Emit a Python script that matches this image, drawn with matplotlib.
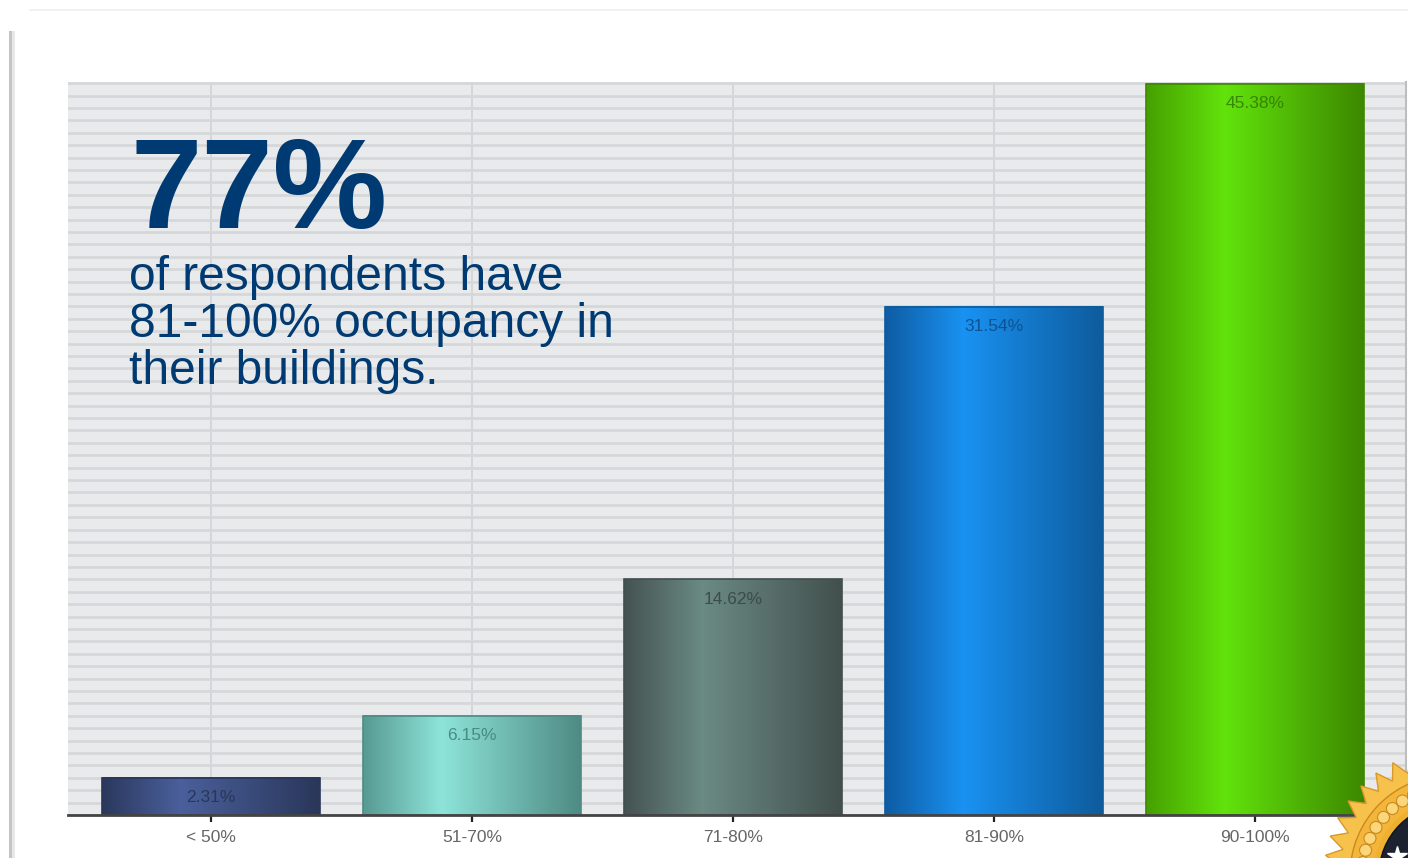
import numpy as np
import matplotlib.pyplot as plt
from matplotlib.colors import LinearSegmentedColormap
from matplotlib.patches import Rectangle, Polygon, Circle

plt.rcParams['font.family'] = ['Liberation Sans', 'DejaVu Sans']

# occupancy survey results
categories = ['< 50%', '51-70%', '71-80%', '81-90%', '90-100%']
shares = [2.31, 6.15, 14.62, 31.54, 45.38]

# left edge / highlight / right edge of each bar's cylinder shading
bar_shades = [
    ('#2b385d', '#4a609c', '#2a375a'),
    ('#579a92', '#8ee4d9', '#4e8b84'),
    ('#445351', '#6b8a84', '#42504d'),
    ('#0f5ca3', '#1992f2', '#0e5b9c'),
    ('#46a000', '#62e30c', '#3d8800'),
]
label_colors = ['#26314f', '#3f7f79', '#36433f', '#0b4a86', '#2f7a00']

headline = '77%'
subline = ['of respondents have', '81-100% occupancy in', 'their buildings.']
navy = '#003a72'

W, H = 1408, 858
fig = plt.figure(figsize=(W / 100, H / 100), dpi=100)
fig.patch.set_facecolor('white')

# card behind the chart
bg = fig.add_axes([0, 0, 1, 1], zorder=-5)
bg.set_xlim(0, W)
bg.set_ylim(H, 0)
bg.axis('off')
bg.add_patch(Rectangle((11, 10), W, H, facecolor='white', edgecolor='none'))
bg.plot([10, 10], [32, H], color='#c4c4c4', lw=2.2)
bg.plot([13, 13], [32, H], color='#e6e6e6', lw=2)
bg.plot([30, W], [10, 10], color='#efefef', lw=1.2)

ax = fig.add_axes([68 / W, (H - 815) / H, (1406 - 68) / W, (815 - 82) / H])
ax.set_facecolor('#e9eaec')

width = 0.835
x = np.arange(len(categories))
for i, (v, shade) in enumerate(zip(shares, bar_shades)):
    cmap = LinearSegmentedColormap.from_list(
        f'shade{i}', [(0, shade[0]), (0.36, shade[1]), (1, shade[2])])
    grad = np.linspace(0, 1, 256).reshape(1, -1)
    ax.imshow(grad, cmap=cmap, aspect='auto', interpolation='bicubic',
              extent=(i - width / 2, i + width / 2, 0, v), zorder=3)
    ax.add_patch(Rectangle((i - width / 2, 0), width, v, facecolor='none',
                           edgecolor=shade[2], lw=1.2, zorder=4))
    ax.annotate(f'{v:.2f}%', (i, v), xytext=(0, -9), textcoords='offset points',
                ha='center', va='top', fontsize=12.5, color=label_colors[i],
                alpha=0.85, zorder=5)

ax.set_xlim(-0.548, 4.578)
ax.set_ylim(0, 45.5)
ax.set_xticks(x)
ax.set_xticklabels(categories)
ax.set_yticks(np.arange(0, 45.5, 0.77))
ax.yaxis.grid(True, color='#d6d7da', lw=2.0, zorder=0)
ax.xaxis.grid(True, color='#d2d3d6', lw=1.2, zorder=0)
ax.set_axisbelow(True)
ax.tick_params(axis='y', left=False, labelleft=False)
ax.tick_params(axis='x', length=5, width=1.6, color='#222222', pad=6,
               labelsize=12.5, labelcolor='#666666')
for side in ('left', 'top'):
    ax.spines[side].set_visible(False)
ax.spines['right'].set_color('#bdbdbd')
ax.spines['right'].set_linewidth(1.5)
ax.spines['bottom'].set_color('#444444')
ax.spines['bottom'].set_linewidth(2)
ax.spines['bottom'].set_zorder(6)

# headline callout
fig.text(130 / W, 1 - 228 / H, headline, fontsize=92.5, fontweight='bold',
         color=navy, va='baseline', ha='left')
for k, line in enumerate(subline):
    fig.text(129 / W, 1 - (290 + 47 * k) / H, line, fontsize=34.5,
             color=navy, va='baseline', ha='left')

# gold seal peeking in at the lower right corner
top = fig.add_axes([0, 0, 1, 1], zorder=10)
top.set_xlim(0, W)
top.set_ylim(H, 0)
top.axis('off')
cx, cy = 1450, 875
n_teeth = 40
ang = np.linspace(0, 2 * np.pi, 2 * n_teeth, endpoint=False)
rad = np.where(np.arange(2 * n_teeth) % 2 == 0, 126, 110)
top.add_patch(Polygon(np.column_stack([cx + rad * np.cos(ang), cy + rad * np.sin(ang)]),
                      closed=True, facecolor='#f7c24c', edgecolor='#d8982a', lw=1))
top.add_patch(Circle((cx, cy), 100, facecolor='#f3b53a', edgecolor='#c98a1e', lw=1))
bead_ang = np.linspace(0, 2 * np.pi, 44, endpoint=False)
for a in bead_ang:
    top.add_patch(Circle((cx + 88 * np.cos(a), cy + 88 * np.sin(a)), 6,
                         facecolor='#fbd67a', edgecolor='#c98a1e', lw=0.8))
top.add_patch(Circle((cx, cy), 77, facecolor='#f0b02f', edgecolor='none'))
top.add_patch(Circle((cx, cy), 71, facecolor='#1c2230', edgecolor='#0e121a', lw=1))
star_ang = np.radians([150, 175, 200, 125, 105])
top.plot(cx + 56 * np.cos(star_ang), cy + 56 * np.sin(star_ang), ls='none',
         marker='*', ms=15, color='white')

fig.savefig('out.png', dpi=100)
